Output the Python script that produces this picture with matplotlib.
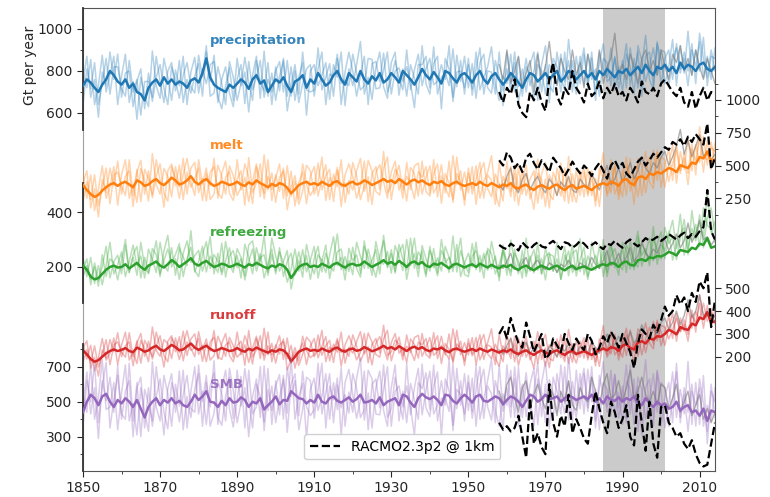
import matplotlib
matplotlib.use('Agg')
import matplotlib.pyplot as plt
from matplotlib.lines import Line2D

years = list(range(1850, 2015))
years_racmo = list(range(1958, 2015))

labels = ['precipitation', 'melt', 'refreezing', 'runoff', 'SMB']
colors = ['#1f77b4', '#ff7f0e', '#2ca02c', '#d62728', '#9467bd']
xticks_major = [1850, 1870, 1890, 1910, 1930, 1950, 1970, 1990, 2010]

# ---------------- ensemble means (Gt per year) ----------------
precip_mean = [
 730, 760, 745, 720, 700, 735, 760, 800, 780, 750,
 735, 760, 720, 740, 700, 690, 660, 720, 745, 760,
 730, 770, 740, 760, 735, 750, 740, 720, 755, 765,
 745, 790, 860, 770, 735, 720, 710, 700, 735, 720,
 740, 760, 745, 715, 760, 780, 740, 755, 700, 730,
 760, 745, 770, 730, 700, 750, 760, 780, 720, 760,
 740, 790, 760, 730, 745, 780, 800, 760, 735, 790,
 770, 750, 800, 760, 740, 775, 755, 790, 745, 760,
 790, 770, 745, 800, 780, 760, 735, 770, 810, 780,
 760, 795, 770, 740, 800, 790, 765, 745, 780, 790,
 770, 745, 780, 800, 760, 740, 775, 790, 760, 735,
 760, 790, 770, 745, 720, 760, 790, 780, 750, 770,
 790, 760, 780, 800, 750, 770, 800, 790, 760, 780,
 800, 770, 790, 760, 800, 780, 810, 790, 770, 800,
 790, 810, 780, 800, 820, 790, 830, 800, 780, 820,
 810, 830, 800, 820, 790, 840, 810, 830, 820, 800,
 830, 840, 810, 800, 820]
melt_mean = [
 498, 480, 465, 455, 462, 478, 490, 500, 505, 495,
 505, 510, 500, 490, 515, 508, 495, 500, 512, 520,
 505, 498, 510, 525, 515, 500, 505, 515, 530, 510,
 500, 512, 520, 505, 495, 500, 510, 505, 498, 502,
 510, 500, 495, 508, 500, 515, 505, 498, 490, 502,
 495, 505, 500, 488, 468, 482, 498, 505, 510, 500,
 505, 498, 510, 502, 495, 508, 512, 500, 495, 505,
 510, 500, 505, 515, 508, 498, 505, 512, 520, 510,
 515, 505, 520, 510, 500, 512, 518, 508, 515, 505,
 498, 510, 505, 512, 500, 495, 505, 510, 500, 495,
 500, 505, 498, 510, 500, 495, 505, 498, 490, 500,
 495, 505, 490, 485, 495, 500, 488, 480, 492, 498,
 490, 485, 495, 500, 488, 480, 492, 498, 485, 490,
 495, 488, 480, 492, 500, 505, 498, 510, 505, 495,
 515, 520, 505, 498, 525, 530, 520, 540, 535, 545,
 540, 550, 560, 555, 545, 570, 565, 560, 580, 575,
 600, 595, 620, 585, 590]
refreeze_mean = [
 205, 190, 165, 155, 160, 175, 190, 200, 205, 198,
 200, 210, 195, 205, 215, 200, 190, 205, 212, 220,
 205, 198, 210, 225, 215, 200, 210, 220, 232, 212,
 205, 215, 222, 210, 200, 205, 212, 208, 200, 205,
 212, 205, 198, 210, 205, 215, 208, 200, 195, 205,
 200, 210, 205, 190, 160, 180, 200, 208, 212, 200,
 205, 200, 212, 205, 198, 210, 215, 205, 198, 208,
 212, 205, 208, 220, 210, 200, 208, 215, 225, 212,
 218, 208, 222, 212, 200, 215, 220, 210, 218, 205,
 200, 212, 208, 215, 205, 195, 208, 212, 205, 198,
 205, 210, 200, 212, 205, 198, 208, 200, 195, 205,
 200, 208, 195, 190, 200, 205, 195, 188, 198, 205,
 198, 192, 200, 205, 195, 188, 198, 205, 192, 198,
 202, 195, 190, 198, 205, 210, 205, 215, 212, 200,
 215, 220, 208, 205, 225, 228, 222, 235, 232, 240,
 238, 245, 255, 250, 242, 262, 258, 255, 270, 265,
 285, 280, 305, 270, 275]
runoff_mean = [
 228, 210, 190, 178, 185, 200, 215, 225, 232, 225,
 230, 238, 225, 220, 240, 232, 222, 228, 240, 248,
 232, 225, 238, 252, 242, 228, 232, 245, 258, 240,
 230, 240, 248, 235, 225, 230, 238, 232, 225, 228,
 238, 228, 222, 235, 228, 240, 232, 225, 218, 228,
 222, 232, 228, 212, 180, 200, 222, 230, 236, 226,
 230, 225, 236, 228, 222, 235, 240, 228, 222, 232,
 236, 226, 230, 242, 234, 224, 230, 238, 248, 236,
 242, 232, 246, 236, 225, 238, 244, 234, 242, 230,
 224, 236, 232, 240, 228, 220, 232, 236, 228, 222,
 228, 234, 225, 236, 228, 222, 232, 225, 218, 228,
 222, 232, 218, 212, 222, 228, 216, 208, 220, 228,
 218, 212, 222, 228, 216, 208, 220, 226, 212, 218,
 224, 216, 208, 220, 228, 236, 228, 242, 238, 226,
 248, 255, 238, 232, 262, 268, 258, 280, 275, 290,
 288, 300, 318, 310, 298, 330, 322, 318, 345, 338,
 372, 365, 395, 350, 355]
smb_mean = [
 440, 500, 540, 520, 480, 530, 545, 500, 470, 510,
 490, 520, 500, 470, 510, 460, 410, 470, 500, 520,
 480, 510, 495, 520, 490, 505, 480, 470, 500, 540,
 510, 530, 560, 500, 495, 470, 505, 480, 520, 495,
 500, 525, 510, 470, 500, 490, 520, 455, 480, 500,
 530, 485, 510, 505, 560, 540, 520, 515, 490, 510,
 495, 540, 500, 490, 520, 530, 505, 495, 510, 525,
 500, 515, 540, 495, 500, 510, 490, 525, 480, 500,
 510, 520, 480, 540, 530, 495, 470, 520, 545, 525,
 515, 530, 510, 480, 540, 535, 505, 490, 520, 540,
 520, 495, 530, 540, 505, 500, 515, 530, 520, 485,
 510, 530, 520, 500, 470, 505, 540, 530, 500, 515,
 540, 515, 520, 530, 500, 520, 535, 525, 510, 520,
 530, 515, 540, 500, 520, 490, 530, 510, 505, 525,
 500, 520, 510, 530, 490, 480, 520, 490, 470, 500,
 480, 490, 460, 470, 500, 450, 470, 480, 440, 450,
 420, 460, 390, 450, 440]

# ---------------- ensemble members: departures from the mean ----------------
precip_member_dev = [
 [60, -40, 110, -80, 30, 140, -60, -20, 90, -110,
  40, 120, -70, 10, -130, 80, 20, -90, 150, -30,
  -60, 90, 30, -100, 70, -20, 130, -80, 40, 100,
  -50, 20, -120, 60, 110, -40, -90, 30, 80, -60,
  120, -30, 50, -110, 20, 90, -70, 140, -20, 60,
  -100, 30, 80, -50, 120, -90, 10, 60, -130, 40,
  90, -60, 20, 110, -80, 50, -30, 130, -100, 20,
  -40, 80, 140, -70, 30, -110, 60, 100, -20, -90,
  50, 120, -60, 10, -100, 70, 30, -80, 110, -40,
  -70, 40, 100, -120, 60, 20, -90, 130, -30, 80,
  -50, 90, -110, 40, 120, -20, -80, 60, 10, -100,
  130, -40, 70, -90, 30, 100, -60, 20, 140, -70,
  40, -110, 80, 20, -50, 120, -90, 60, -20, 90,
  -70, 110, -30, 50, -120, 80, 30, -60, 100, -40,
  60, -90, 130, -20, 70, -110, 40, 90, -50, 120,
  -80, 30, 100, -60, 140, -30, 50, -100, 80, 20,
  110, -70, 60, -40, 90],
 [-90, 50, -30, 120, -60, 10, 100, -110, 40, 70,
  -20, -80, 130, -40, 60, -100, 90, 30, -70, 110,
  20, -120, 60, 80, -30, 100, -90, 40, -60, 10,
  90, -110, 30, -20, 140, -70, 50, 120, -40, -90,
  20, 70, -100, 130, -50, -10, 110, -80, 60, -30,
  40, 100, -70, 120, -20, 50, -110, -40, 90, 70,
  -60, 20, 130, -90, 40, -10, 80, -120, 60, 100,
  30, -70, -20, 110, -100, 60, 90, -40, 140, -60,
  -30, 80, 20, -90, 120, -50, 70, 110, -80, 30,
  100, -60, -20, 90, -40, 130, -110, 50, 20, -70,
  60, -30, 110, -90, 10, 80, 140, -50, -100, 40,
  -20, 90, -70, 120, -40, 60, -10, -110, 80, 30,
  -100, 70, 20, -60, 130, -20, 50, -90, 110, -40,
  80, -30, 100, -70, 40, 150, -60, -20, 90, -80,
  20, 120, -50, 60, -100, 30, 140, -40, -70, 110,
  50, -90, 20, 130, -60, 80, -20, 160, -40, 100,
  -30, 120, -80, 70, 40],
 [20, 110, -70, 40, -120, 60, -30, 90, -20, 130,
  -60, 30, 80, -110, 50, 120, -40, 70, -90, 10,
  100, -50, -100, 60, 20, -80, 40, 120, -30, -70,
  130, -20, 60, -90, -40, 100, 30, -60, 110, 50,
  -80, -20, 120, 30, -100, 70, 10, -50, 140, -90,
  60, -40, 90, -120, 30, 80, -70, 110, -10, -60,
  -30, 120, -50, 40, 90, -100, 60, -20, 20, -60,
  110, 40, -90, -30, 120, 80, -40, -70, 60, 130,
  -100, 30, 70, -50, 40, -20, -110, 60, 20, 90,
  -40, 120, -80, 30, -10, -60, 140, -20, 70, -100,
  90, -60, 30, 110, -70, 60, 20, -100, 130, -30,
  50, -80, 120, -20, 90, -60, 40, 110, -90, 60,
  130, -30, -80, 90, 20, -60, 150, -10, -70, 40,
  110, -50, 70, -100, 90, 30, -40, 120, -60, 20,
  -90, 70, 40, -110, 100, 60, -80, 20, 130, -40,
  90, 60, -70, 30, 120, -50, 80, -30, 110, -60,
  150, 20, -40, 100, -20]]
melt_member_dev = [
 [40, -30, 70, -50, 20, 90, -40, -10, 60, -70,
  30, 80, -50, 10, -80, 50, 20, -60, 100, -20,
  -40, 60, 20, -70, 50, -10, 90, -50, 30, 70,
  -30, 10, -80, 40, 70, -30, -60, 20, 50, -40,
  80, -20, 30, -70, 10, 60, -50, 110, -10, 40,
  -60, 20, 50, -30, 80, -60, 10, 40, -80, 30,
  60, -40, 10, 70, -50, 30, -20, 90, -60, 10,
  -30, 50, 90, -40, 20, -70, 40, 60, -10, -60,
  30, 80, -40, 10, -60, 50, 20, -50, 70, -30,
  -40, 30, 70, -80, 40, 10, -60, 90, -20, 50,
  -30, 60, -70, 30, 80, -10, -50, 40, 10, -60,
  90, -30, 50, -60, 20, 70, -40, 10, 100, -50,
  30, -70, 50, 10, -30, 80, -60, 40, -10, 60,
  -40, 70, -20, 30, -80, 50, 20, -40, 70, -30,
  40, -60, 90, -10, 50, -70, 30, 60, -30, 80,
  -50, 20, 70, -40, 100, -20, 30, -60, 50, 10,
  70, -50, 40, -30, 60],
 [-60, 30, -20, 80, -40, 10, 70, -70, 30, 50,
  -10, -50, 90, -30, 40, -70, 60, 20, -50, 70,
  10, -80, 40, 50, -20, 70, -60, 30, -40, 10,
  60, -70, 20, -10, 100, -50, 30, 80, -30, -60,
  10, 50, -70, 90, -30, -10, 70, -50, 40, -20,
  30, 70, -50, 80, -10, 30, -70, -30, 60, 50,
  -40, 10, 90, -60, 30, -10, 50, -80, 40, 70,
  20, -50, -10, 70, -70, 40, 60, -30, 100, -40,
  -20, 50, 10, -60, 80, -30, 50, 70, -50, 20,
  70, -40, -10, 60, -30, 90, -70, 30, 10, -50,
  40, -20, 70, -60, 10, 50, 100, -30, -70, 30,
  -10, 60, -50, 80, -30, 40, -10, -70, 50, 20,
  -70, 50, 10, -40, 90, -10, 30, -60, 70, -30,
  50, -20, 70, -50, 30, 110, -40, -10, 60, -50,
  10, 80, -30, 40, -70, 20, 100, -30, -50, 70,
  30, -60, 10, 90, -40, 50, -10, 110, -30, 70,
  -20, 80, -50, 50, 30],
 [10, 70, -50, 30, -80, 40, -20, 60, -10, 90,
  -40, 20, 50, -70, 30, 80, -30, 50, -60, 10,
  70, -30, -70, 40, 10, -50, 30, 80, -20, -50,
  90, -10, 40, -60, -30, 70, 20, -40, 70, 30,
  -50, -10, 80, 20, -70, 50, 10, -30, 100, -60,
  40, -30, 60, -80, 20, 50, -50, 70, -10, -40,
  -20, 80, -30, 30, 60, -70, 40, -10, 10, -40,
  70, 30, -60, -20, 80, 50, -30, -50, 40, 90,
  -70, 20, 50, -30, 30, -10, -70, 40, 10, 60,
  -30, 80, -50, 20, -10, -40, 100, -10, 50, -70,
  60, -40, 20, 70, -50, 40, 10, -70, 90, -20,
  30, -50, 80, -10, 60, -40, 30, 70, -60, 40,
  90, -20, -50, 60, 10, -40, 110, -10, -50, 30,
  70, -30, 50, -70, 60, 20, -30, 80, -40, 10,
  -60, 50, 30, -70, 70, 40, -50, 10, 90, -30,
  60, 40, -50, 20, 80, -30, 50, -20, 70, -40,
  110, 10, -30, 70, -10]]
refreeze_member_dev = [
 [-15, 40, -30, 60, -10, 25, 85, -40, 15, 45,
  -25, 70, -15, 30, -45, 90, 10, -30, 55, 25,
  -40, 60, 105, -25, 15, -45, 40, 75, -15, 30,
  55, -30, 10, 100, -25, 45, -40, 15, 70, -10,
  30, -45, 85, 25, -30, 55, 10, 115, -25, 40,
  -15, 60, -40, 30, 90, -10, 25, -45, 70, 15,
  -30, 45, 10, 75, -40, 25, 105, -15, 40, -25,
  60, -10, -45, 55, 25, -30, 85, 10, -15, 45,
  -40, 70, 15, -25, 100, -10, 30, -45, 60, 25,
  -15, 55, -30, 85, 10, 40, -25, 70, -40, 15,
  45, -10, 90, -30, 25, 60, -15, 40, -45, 75,
  10, -25, 55, 30, -40, 100, -10, 15, 45, -30,
  70, 25, -15, 85, -40, 30, 60, -25, 10, 105,
  -30, 45, 15, -10, 75, -45, 40, 70, -15, 25,
  55, -40, 90, 10, -25, 60, 30, -10, 115, -30,
  45, 15, 75, -25, 40, 130, -15, 60, 30, 90,
  -10, 135, 45, 70, 15],
 [30, -25, 70, -15, 45, -40, 15, 90, -30, 10,
  55, -45, 25, 75, -10, 40, -30, 60, 15, -40,
  85, 10, -25, 45, -45, 70, 25, -15, 100, -30,
  15, 60, -40, 30, 10, -25, 75, -45, 40, 55,
  -15, 25, -30, 70, 90, -10, 40, -40, 15, 60,
  -25, 45, 10, -45, 30, 85, -15, 55, -30, 25,
  70, -40, 15, -25, 45, 100, -10, 30, -45, 60,
  10, 40, -30, 75, -15, 25, 55, -40, 90, -10,
  45, -25, 30, 70, -45, 15, 85, -15, 40, -30,
  60, 10, -40, 45, 25, -15, 105, -30, 55, 15,
  -25, 75, -10, 30, -45, 70, 40, -25, 15, 55,
  -30, 90, 25, -15, 60, -40, 30, 75, -10, 25,
  -45, 55, 40, -25, 15, 85, -30, 45, 70, -15,
  30, -40, 100, 25, -10, 45, -25, 60, 15, -30,
  75, 40, -15, 55, 105, -25, 30, 70, -10, 45,
  90, -15, 60, 120, 25, 55, 85, -10, 135, 40,
  75, 30, 165, 55, 90],
 [-40, 15, -10, 45, -30, 70, -25, 30, 10, -45,
  25, 90, -15, 40, 60, -40, 45, -25, 15, 75,
  -30, 25, 55, -10, 30, 85, -45, 10, 40, -25,
  -40, 30, 70, -15, 45, 15, -30, 85, 10, -25,
  55, 30, -45, 10, 60, -30, 25, 45, -15, 100,
  40, -25, 15, 70, -40, 10, 55, -15, 30, -45,
  25, 75, -30, 45, 10, -25, 40, 60, -10, 15,
  -40, 85, 30, -25, 55, 10, -45, 25, 70, -15,
  30, -30, 60, 15, -10, 90, -25, 45, 10, -40,
  75, -15, 25, -30, 70, 40, -10, 15, 100, -25,
  -40, 30, 60, -15, 45, -10, 85, 25, -30, 55,
  15, -40, 70, 10, 30, -25, 45, -10, 90, -30,
  40, 60, -15, 25, -40, 55, 10, 75, -25, 30,
  70, -30, 15, 45, -10, 90, -40, 25, 55, 10,
  -25, 60, 40, -15, 85, 15, 45, -30, 70, 25,
  -10, 100, 30, 60, -15, 45, 115, 10, 70, 30,
  105, -10, 75, 145, 45]]
runoff_member_dev = [
 [30, -20, 60, -40, 10, 80, -30, -10, 50, -60,
  20, 70, -40, 0, -70, 40, 10, -50, 90, -20,
  -30, 50, 20, -60, 40, -10, 80, -40, 20, 60,
  -20, 10, -70, 30, 60, -30, -50, 20, 40, -30,
  70, -20, 30, -60, 10, 50, -40, 100, -10, 30,
  -50, 20, 40, -20, 70, -50, 0, 30, -70, 20,
  50, -30, 10, 60, -40, 20, -20, 80, -50, 10,
  -20, 40, 80, -30, 10, -60, 30, 50, -10, -50,
  20, 70, -30, 0, -50, 40, 10, -40, 60, -20,
  -30, 20, 60, -70, 30, 10, -50, 80, -20, 40,
  -20, 50, -60, 20, 70, -10, -40, 30, 0, -50,
  80, -20, 40, -50, 10, 60, -30, 10, 90, -40,
  20, -60, 40, 10, -20, 70, -50, 30, -10, 50,
  -30, 60, -20, 20, -70, 40, 10, -30, 60, -20,
  30, -50, 80, -10, 40, -60, 20, 50, -20, 70,
  -40, 10, 60, -30, 90, -20, 20, -50, 40, 10,
  60, -40, 30, -20, 50],
 [-50, 20, -20, 70, -30, 10, 60, -60, 20, 40,
  -10, -40, 80, -20, 30, -60, 50, 10, -40, 60,
  10, -70, 30, 40, -20, 60, -50, 20, -30, 0,
  50, -60, 10, -10, 90, -40, 20, 70, -20, -50,
  10, 40, -60, 80, -30, -10, 60, -40, 30, -20,
  20, 60, -40, 70, -10, 20, -60, -20, 50, 40,
  -30, 10, 80, -50, 20, -10, 40, -70, 30, 60,
  10, -40, -10, 60, -60, 30, 50, -20, 90, -30,
  -20, 40, 10, -50, 70, -20, 40, 60, -40, 10,
  60, -30, -10, 50, -20, 80, -60, 20, 10, -40,
  30, -20, 60, -50, 0, 40, 90, -30, -60, 20,
  -10, 50, -40, 70, -20, 30, -10, -60, 40, 10,
  -60, 40, 10, -30, 80, -10, 20, -50, 60, -20,
  40, -20, 60, -40, 20, 100, -30, -10, 50, -40,
  10, 70, -30, 30, -60, 10, 90, -20, -40, 60,
  20, -50, 10, 80, -30, 40, -10, 100, -20, 60,
  -10, 70, -40, 40, 20],
 [10, 60, -40, 20, -70, 30, -20, 50, -10, 80,
  -30, 10, 40, -60, 20, 70, -20, 40, -50, 0,
  60, -20, -60, 30, 10, -40, 20, 70, -20, -40,
  80, -10, 30, -50, -20, 60, 10, -30, 60, 20,
  -40, -10, 70, 10, -60, 40, 0, -20, 90, -50,
  30, -20, 50, -70, 10, 40, -40, 60, -10, -30,
  -20, 70, -30, 20, 50, -60, 30, -10, 10, -30,
  60, 20, -50, -20, 70, 40, -20, -40, 30, 80,
  -60, 10, 40, -30, 20, -10, -60, 30, 10, 50,
  -20, 70, -40, 10, -10, -30, 90, -10, 40, -60,
  50, -30, 10, 60, -40, 30, 10, -60, 80, -20,
  20, -40, 70, -10, 50, -30, 20, 60, -50, 30,
  80, -20, -40, 50, 10, -30, 100, -10, -40, 20,
  60, -30, 40, -60, 50, 10, -20, 70, -30, 10,
  -50, 40, 20, -60, 60, 30, -40, 10, 80, -20,
  50, 30, -40, 10, 70, -20, 40, -20, 60, -30,
  100, 10, -20, 60, -10]]
smb_member_dev = [
 [-80, 120, -40, 200, -100, 60, 180, -150, 40, 140,
  -60, -120, 220, -80, 100, -160, 160, 20, -110, 180,
  40, -200, 80, 140, -50, 170, -140, 60, -90, 30,
  150, -170, 50, -30, 240, -100, 70, 200, -60, -140,
  20, 120, -160, 210, -70, -20, 180, -120, 90, -50,
  60, 170, -110, 190, -30, 80, -180, -60, 150, 110,
  -90, 30, 220, -140, 70, -20, 130, -190, 100, 160,
  40, -110, -30, 180, -160, 90, 140, -60, 230, -90,
  -50, 120, 30, -140, 190, -70, 110, 170, -120, 40,
  160, -100, -30, 140, -60, 210, -170, 80, 20, -110,
  90, -50, 180, -140, 10, 120, 230, -80, -160, 60,
  -30, 150, -110, 200, -60, 100, -20, -170, 130, 40,
  -160, 110, 30, -90, 210, -30, 80, -140, 170, -60,
  130, -50, 160, -110, 60, 240, -90, -30, 150, -120,
  30, 190, -80, 100, -160, 50, 220, -60, -110, 170,
  80, -140, 30, 200, -90, 120, -40, 250, -70, 160,
  -50, 190, -130, 110, 60],
 [100, -60, 170, -120, 40, 210, -90, -30, 140, -170,
  60, 190, -110, 20, -200, 120, 30, -140, 230, -50,
  -90, 140, 50, -160, 110, -30, 200, -120, 60, 160,
  -80, 30, -190, 90, 170, -60, -140, 50, 120, -90,
  180, -50, 70, -170, 30, 140, -110, 250, -30, 90,
  -150, 40, 120, -70, 190, -140, 10, 90, -200, 60,
  140, -90, 30, 170, -120, 80, -50, 200, -150, 30,
  -60, 120, 210, -100, 50, -160, 90, 150, -30, -140,
  70, 190, -90, 20, -150, 110, 40, -120, 170, -60,
  -100, 60, 160, -180, 90, 30, -140, 200, -40, 120,
  -70, 140, -170, 60, 180, -30, -120, 90, 10, -150,
  200, -60, 110, -140, 40, 160, -90, 30, 220, -100,
  60, -170, 120, 30, -70, 180, -140, 90, -30, 140,
  -100, 170, -40, 70, -180, 120, 40, -90, 150, -60,
  90, -140, 200, -30, 100, -170, 60, 140, -70, 180,
  -120, 40, 150, -90, 220, -40, 70, -150, 120, 30,
  160, -100, 90, -60, 140],
 [30, 170, -110, 60, -190, 90, -40, 140, -30, 200,
  -90, 40, 120, -170, 70, 180, -60, 110, -140, 10,
  150, -70, -150, 90, 30, -120, 60, 180, -40, -100,
  200, -30, 90, -140, -60, 150, 40, -90, 170, 70,
  -120, -30, 180, 40, -150, 110, 10, -70, 210, -130,
  90, -60, 140, -180, 40, 120, -100, 160, -20, -90,
  -40, 180, -70, 60, 140, -150, 90, -30, 30, -90,
  160, 60, -130, -40, 180, 120, -60, -100, 90, 200,
  -150, 40, 110, -70, 60, -30, -160, 90, 30, 140,
  -60, 180, -120, 40, -20, -90, 210, -30, 100, -150,
  130, -90, 40, 160, -100, 90, 30, -150, 190, -40,
  70, -120, 180, -30, 130, -90, 60, 160, -130, 90,
  190, -40, -120, 130, 30, -90, 220, -20, -100, 60,
  160, -70, 100, -150, 130, 40, -60, 170, -90, 30,
  -130, 100, 60, -160, 150, 90, -120, 30, 190, -60,
  130, 90, -100, 40, 170, -70, 110, -40, 160, -90,
  210, 30, -60, 150, -30]]

# ---------------- reanalysis-forced run (grey), 1958-2014 ----------------
precip_grey = [
 830, 760, 900, 740, 800, 870, 720, 790, 850, 700,
 880, 760, 820, 940, 780, 730, 860, 800, 760, 900,
 780, 840, 720, 880, 800, 760, 900, 740, 820, 860,
 980, 790, 830, 760, 880, 820, 740, 860, 900, 800,
 850, 780, 900, 820, 760, 880, 840, 920, 800, 860,
 780, 900, 820, 760, 860, 800, 740]
melt_grey = [
 500, 480, 530, 560, 490, 470, 520, 540, 480, 510,
 530, 490, 470, 520, 500, 460, 510, 490, 530, 480,
 470, 520, 500, 490, 540, 510, 480, 530, 570, 500,
 520, 560, 510, 540, 580, 520, 550, 600, 560, 540,
 580, 560, 600, 620, 570, 600, 640, 700, 610, 660,
 600, 640, 680, 600, 620, 590, 610]
refreeze_grey = [
 205, 195, 220, 250, 200, 185, 215, 235, 190, 210,
 225, 200, 190, 215, 205, 180, 210, 200, 225, 195,
 190, 215, 205, 200, 235, 210, 195, 225, 260, 205,
 220, 250, 210, 235, 270, 220, 240, 290, 250, 235,
 265, 250, 290, 300, 260, 285, 320, 270, 295, 360,
 290, 320, 370, 300, 310, 280, 300]
runoff_grey = [
 230, 215, 250, 280, 225, 205, 240, 265, 215, 235,
 250, 225, 210, 245, 230, 200, 240, 225, 255, 215,
 210, 245, 230, 220, 265, 240, 215, 255, 300, 235,
 255, 290, 245, 270, 310, 260, 285, 340, 300, 280,
 320, 300, 350, 370, 320, 350, 400, 340, 380, 450,
 370, 400, 470, 380, 400, 360, 380]
smb_grey = [
 560, 480, 600, 640, 520, 440, 580, 620, 470, 540,
 600, 520, 460, 580, 540, 420, 560, 500, 620, 480,
 450, 580, 520, 500, 640, 560, 470, 600, 660, 520,
 540, 620, 500, 580, 680, 520, 560, 640, 540, 500,
 560, 480, 600, 580, 460, 520, 600, 440, 500, 560,
 420, 480, 540, 400, 460, 380, 440]

# ---------------- RACMO2.3p2 @ 1km, 1958-2014 ----------------
precip_racmo = [
 700, 650, 720, 690, 760, 640, 600, 580, 700, 660,
 720, 650, 610, 760, 840, 680, 640, 720, 690, 800,
 720, 690, 650, 740, 680, 700, 750, 670, 720, 690,
 740, 680, 700, 660, 720, 690, 650, 750, 700, 690,
 720, 680, 740, 760, 730, 700, 680, 720, 650, 630,
 700, 620, 680, 720, 660, 700, 690]
melt_racmo = [
 540, 500, 600, 560, 480, 520, 450, 560, 590, 520,
 470, 540, 500, 450, 560, 520, 480, 420, 470, 530,
 480, 440, 500, 470, 420, 480, 520, 460, 400, 500,
 540, 480, 520, 440, 410, 470, 530, 560, 500, 540,
 590, 560, 600, 640, 620, 680, 660, 700, 650, 720,
 680, 740, 700, 660, 820, 470, 560]
refreeze_racmo = [
 280, 270, 265, 285, 275, 260, 290, 275, 265, 280,
 290, 275, 270, 285, 295, 280, 265, 290, 285, 270,
 280, 295, 285, 270, 280, 290, 275, 265, 285, 280,
 295, 280, 270, 290, 300, 285, 275, 290, 305, 295,
 300, 310, 295, 305, 320, 310, 300, 315, 325, 305,
 320, 310, 330, 345, 480, 330, 300]
runoff_racmo = [
 300, 330, 280, 370, 310, 260, 240, 350, 290, 220,
 260, 300, 190, 210, 280, 250, 220, 300, 260, 230,
 280, 250, 230, 300, 270, 210, 240, 290, 260, 310,
 280, 240, 300, 260, 220, 150, 260, 320, 300, 280,
 340, 310, 360, 420, 380, 400, 470, 430, 460, 400,
 480, 440, 530, 500, 570, 330, 450]
smb_racmo = [
 380, 340, 360, 330, 350, 420, 300, 180, 520, 260,
 320, 240, 200, 600, 380, 300, 420, 360, 540, 320,
 400, 350, 290, 260, 420, 560, 460, 380, 320, 500,
 440, 350, 400, 480, 300, 250, 540, 380, 220, 500,
 260, 180, 470, 480, 380, 350, 300, 320, 260, 230,
 280, 200, 150, 130, 140, 260, 380]

# ---------------- figure ----------------
fig = plt.figure(figsize=(7.7, 4.97), dpi=100)
rect = [83 / 770, 1 - 471 / 497, 632 / 770, 463 / 497]
TXT = '#262626'

ax = fig.add_axes(rect)
ax.set_xlim(1850, 2014)
ax.set_ylim(0, 1)
ax.set_yticks([])
ax.axvspan(1985, 2001, color='#cbcbcb', lw=0, zorder=0)
ax.set_xticks(xticks_major)
ax.set_xticks([y + 10 for y in xticks_major[:-1]], minor=True)
ax.tick_params(axis='x', which='major', labelsize=10, colors=TXT, length=4)
ax.tick_params(axis='x', which='minor', length=2.5, colors=TXT)
for side in ['top', 'right', 'bottom']:
    ax.spines[side].set_color('#555555')
ax.spines['left'].set_color('#a0a0a0')


def overlay(ylim):
    a = fig.add_axes(rect, sharex=ax)
    a.patch.set_visible(False)
    a.set_ylim(*ylim)
    for s in a.spines.values():
        s.set_visible(False)
    a.tick_params(axis='x', which='both', bottom=False, labelbottom=False)
    a.set_yticks([])
    a.tick_params(axis='y', which='both', colors=TXT, labelsize=10)
    return a


def left_axis(a, major, minor, bounds):
    a.set_yticks(major)
    a.set_yticks(minor, minor=True)
    a.tick_params(axis='y', which='major', length=4)
    a.tick_params(axis='y', which='minor', length=2.5)
    a.spines['left'].set_visible(True)
    a.spines['left'].set_bounds(*bounds)
    a.spines['left'].set_color('#333333')
    a.spines['left'].set_linewidth(1.3)


def right_axis(a, major, minor):
    a.yaxis.tick_right()
    a.set_yticks(major)
    a.set_yticks(minor, minor=True)
    a.tick_params(axis='y', which='major', length=4)
    a.tick_params(axis='y', which='minor', length=2.5)


def draw(a, color, mean, member_devs, grey, racmo=None, racmo_ax=None):
    for dev in member_devs:
        n = min(len(dev), len(mean))
        vals = [mean[i] + dev[i] for i in range(n)]
        a.plot(years[:n], vals, color=color, alpha=0.33, lw=1.1, zorder=2)
    a.plot(years_racmo[:len(grey)], grey, color='#7a7a7a', alpha=0.6, lw=1.0, zorder=3)
    a.plot(years[:len(mean)], mean, color=color, lw=1.8, zorder=4)
    if racmo is not None:
        (racmo_ax or a).plot(years_racmo[:len(racmo)], racmo, color='k', ls='--',
                             lw=1.6, zorder=6)


axP = overlay((-1105, 1100))
left_axis(axP, [600, 800, 1000], [700, 900], (520, 1100))
axMR = overlay((-542, 1142))
left_axis(axMR, [200, 400], [], (70, 505))
axR1 = overlay((-1831, 1702))
right_axis(axR1, [250, 500, 750, 1000], [125, 375, 625, 875, 1125])
axR2 = overlay((-301, 1729))
right_axis(axR2, [200, 300, 400, 500], [])
axS = overlay((104, 2750))
left_axis(axS, [300, 500, 700], [200, 400, 600, 800], (104, 830))

draw(axP, colors[0], precip_mean, precip_member_dev, precip_grey, precip_racmo)
draw(axMR, colors[1], melt_mean, melt_member_dev, melt_grey, melt_racmo, axR1)
draw(axMR, colors[2], refreeze_mean, refreeze_member_dev, refreeze_grey, refreeze_racmo)
draw(axR2, colors[3], runoff_mean, runoff_member_dev, runoff_grey, runoff_racmo)
draw(axS, colors[4], smb_mean, smb_member_dev, smb_grey, smb_racmo)

label_y = [0.929, 0.704, 0.516, 0.335, 0.186]
for name, c, yy in zip(labels, colors, label_y):
    axS.text(1883, yy, name, transform=axS.get_xaxis_transform(), color=c,
             fontsize=9.5, fontweight='bold', ha='left', va='center', alpha=0.9,
             zorder=10)

fig.text(30 / 770, 1 - 65 / 497, 'Gt per year', rotation=90, ha='center',
         va='center', fontsize=10, color=TXT)

handle = Line2D([], [], color='k', ls='--', lw=1.6)
leg = axS.legend([handle], ['RACMO2.3p2 @ 1km'], loc='lower center',
                 bbox_to_anchor=(0.505, 0.01), fontsize=10, framealpha=0.9,
                 handlelength=2.2)
leg.set_zorder(20)

fig.savefig('out.png', dpi=100)
